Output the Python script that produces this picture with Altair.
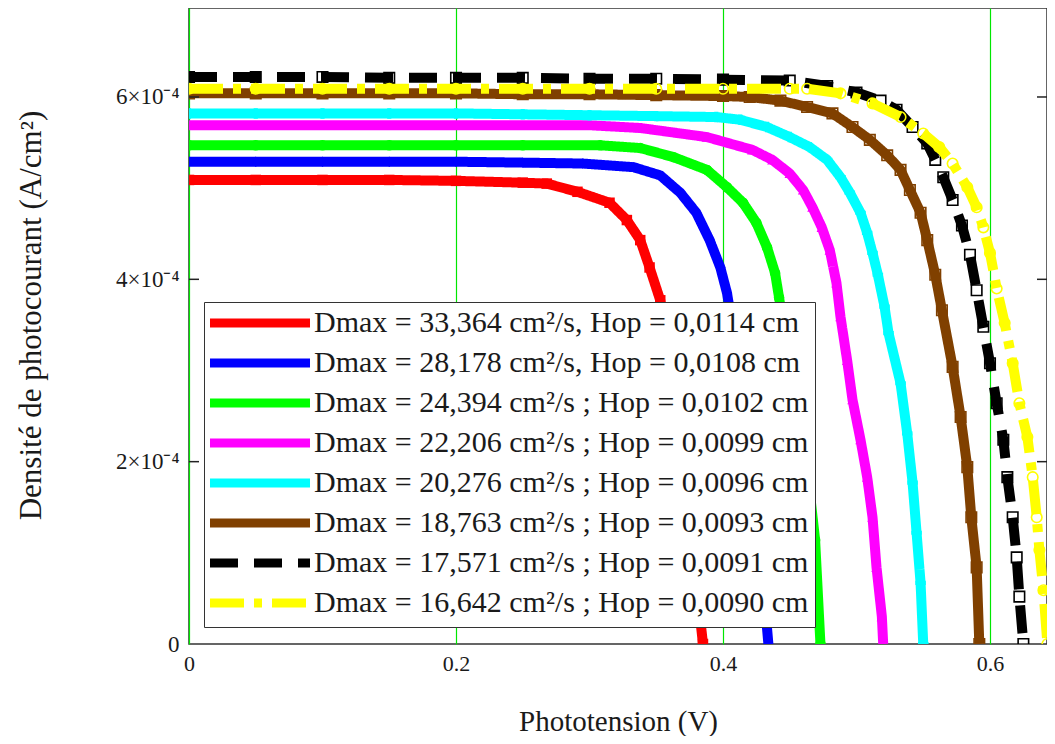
import altair as alt
import pandas as pd

# ---------------- data (J in units of 1e-4 A/cm^2, V in volts) ----------------
labels = [
    "Dmax = 33,364 cm²/s, Hop = 0,0114 cm",
    "Dmax = 28,178 cm²/s, Hop = 0,0108 cm",
    "Dmax = 24,394 cm²/s ; Hop = 0,0102 cm",
    "Dmax = 22,206 cm²/s ; Hop = 0,0099 cm",
    "Dmax = 20,276 cm²/s ; Hop = 0,0096 cm",
    "Dmax = 18,763 cm²/s ; Hop = 0,0093 cm",
    "Dmax = 17,571 cm²/s ; Hop = 0,0091 cm",
    "Dmax = 16,642 cm²/s ; Hop = 0,0090 cm",
]
colors = ["#ff0000", "#0000ff", "#00ff00", "#ff00ff", "#00ffff", "#804000", "#000000", "#ffff00"]
dashes = [[1, 0], [1, 0], [1, 0], [1, 0], [1, 0], [1, 0], [28, 16], [34, 10, 8, 10]]
shapes = ["square", "diamond", "circle", "triangle-up", "cross", "square", "square", "circle"]
filled = [True, True, True, True, True, False, False, False]

V_red = [0, 0.05, 0.10, 0.15, 0.20, 0.25, 0.268, 0.291, 0.315, 0.328, 0.338, 0.345, 0.353, 0.362, 0.372, 0.379, 0.385]
J_red = [5.09, 5.09, 5.09, 5.09, 5.08, 5.06, 5.05, 4.96, 4.84, 4.65, 4.43, 4.13, 3.77, 2.89, 1.80, 0.81, 0]

V_blue = [0, 0.05, 0.10, 0.15, 0.20, 0.25, 0.295, 0.333, 0.353, 0.368, 0.380, 0.390, 0.398, 0.403, 0.416, 0.426, 0.434]
J_blue = [5.29, 5.29, 5.29, 5.29, 5.29, 5.28, 5.27, 5.23, 5.14, 4.95, 4.73, 4.43, 4.13, 3.85, 2.68, 1.36, 0]

V_green = [0, 0.05, 0.10, 0.15, 0.20, 0.25, 0.308, 0.338, 0.363, 0.388, 0.403, 0.415, 0.425, 0.433, 0.439, 0.442,
           0.454, 0.464, 0.469, 0.473]
J_green = [5.47, 5.47, 5.47, 5.47, 5.47, 5.47, 5.47, 5.44, 5.34, 5.20, 5.01, 4.84, 4.62, 4.35, 4.07, 3.80,
           2.68, 1.80, 1.14, 0]

V_magenta = [0, 0.05, 0.10, 0.15, 0.20, 0.25, 0.30, 0.338, 0.388, 0.422, 0.437, 0.450, 0.460, 0.467, 0.474, 0.480,
             0.485, 0.488, 0.493, 0.497, 0.503, 0.508, 0.512, 0.515, 0.519, 0.520]
J_magenta = [5.69, 5.69, 5.69, 5.69, 5.69, 5.69, 5.69, 5.66, 5.56, 5.42, 5.31, 5.16, 4.98, 4.79, 4.57, 4.32,
             3.96, 3.59, 3.11, 2.68, 2.24, 1.83, 1.39, 0.84, 0.30, 0]

V_cyan = [0, 0.05, 0.10, 0.15, 0.20, 0.25, 0.30, 0.35, 0.395, 0.413, 0.433, 0.450, 0.465, 0.478, 0.488, 0.495,
          0.503, 0.508, 0.512, 0.516, 0.521, 0.524, 0.533, 0.538, 0.542, 0.545, 0.548, 0.550]
J_cyan = [5.82, 5.82, 5.82, 5.82, 5.82, 5.81, 5.80, 5.79, 5.78, 5.75, 5.67, 5.56, 5.45, 5.31, 5.12, 4.95,
          4.73, 4.51, 4.29, 4.05, 3.70, 3.41, 2.86, 2.31, 1.77, 1.22, 0.67, 0]

V_brown = [0, 0.05, 0.10, 0.15, 0.20, 0.25, 0.30, 0.35, 0.40, 0.420, 0.443, 0.463, 0.482, 0.497, 0.510, 0.523,
           0.533, 0.540, 0.548, 0.553, 0.559, 0.564, 0.572, 0.578, 0.583, 0.586, 0.590, 0.592]
J_brown = [6.04, 6.04, 6.04, 6.04, 6.04, 6.03, 6.03, 6.02, 6.01, 6.00, 5.96, 5.89, 5.82, 5.67, 5.53, 5.36,
           5.20, 4.98, 4.73, 4.43, 4.05, 3.66, 3.04, 2.49, 1.94, 1.39, 0.84, 0]

V_black = [0, 0.05, 0.10, 0.15, 0.20, 0.25, 0.30, 0.35, 0.40, 0.45, 0.478, 0.500, 0.518, 0.530, 0.542, 0.553,
           0.559, 0.565, 0.572, 0.579, 0.585, 0.590, 0.595, 0.600, 0.605, 0.610, 0.613, 0.617, 0.620, 0.622, 0.625]
J_black = [6.22, 6.22, 6.22, 6.21, 6.21, 6.21, 6.20, 6.20, 6.19, 6.18, 6.12, 6.05, 5.96, 5.86, 5.67, 5.49,
           5.31, 5.12, 4.87, 4.59, 4.27, 3.88, 3.48, 3.08, 2.64, 2.24, 1.83, 1.39, 0.95, 0.52, 0]

V_yellow = [0, 0.05, 0.10, 0.15, 0.20, 0.25, 0.30, 0.35, 0.40, 0.45, 0.463, 0.488, 0.512, 0.533, 0.550, 0.562,
            0.572, 0.583, 0.590, 0.595, 0.600, 0.605, 0.611, 0.617, 0.622, 0.628, 0.632, 0.635, 0.637, 0.640, 0.643]
J_yellow = [6.09, 6.09, 6.09, 6.09, 6.09, 6.09, 6.09, 6.09, 6.09, 6.09, 6.09, 6.04, 5.93, 5.78, 5.60, 5.45,
            5.27, 5.01, 4.79, 4.57, 4.29, 3.90, 3.52, 3.08, 2.64, 2.27, 1.83, 1.39, 1.03, 0.59, 0]

x_ticks = [0, 0.2, 0.4, 0.6]
y_ticks = [0, 2e-4, 4e-4, 6e-4]

series_V = [V_red, V_blue, V_green, V_magenta, V_cyan, V_brown, V_black, V_yellow]
series_J = [J_red, J_blue, J_green, J_magenta, J_cyan, J_brown, J_black, J_yellow]

rows = []
for name, Vs, Js in zip(labels, series_V, series_J):
    for v, j in zip(Vs, Js):
        rows.append({"serie": name, "V": v, "J": j * 1e-4})
df = pd.DataFrame(rows)

W, H = 858, 636
FONT = "Liberation Serif"
TXT = "#1a1a1a"

xs = alt.Scale(domain=[0, 0.6427], nice=False, zero=False)
ys = alt.Scale(domain=[0, 6.976e-4], nice=False)

x_enc = alt.X("V:Q", scale=xs, axis=alt.Axis(
    values=x_ticks, labelExpr="datum.value == 0 ? '0' : format(datum.value, '.1f')",
    title="Phototension (V)", grid=True, gridColor="#00e600", gridWidth=1.2, ticks=False, domain=False,
    labelPadding=9, labelFontSize=22, labelFont=FONT, labelColor=TXT, labelFlush=False,
    titleFont=FONT, titleFontSize=29, titleFontWeight="normal", titleColor=TXT,
    titleBaseline="alphabetic", titleY=86))
y_enc = alt.Y("J:Q", scale=ys, axis=alt.Axis(
    values=y_ticks, labelExpr="datum.value == 0 ? '0' : format(round(datum.value * 1e4), 'd') + '×10⁻⁴'",
    title="Densité de photocourant (A/cm²)", grid=False, ticks=False, domain=False,
    labelPadding=10, labelFontSize=23, labelFont=FONT, labelColor=TXT,
    titleFont=FONT, titleFontSize=31, titleFontWeight="normal", titleColor=TXT,
    titleAngle=270, titleX=-158, titleY=307, titleAlign="center", titleBaseline="middle"))

color_scale = alt.Scale(domain=labels, range=colors)
dash_scale = alt.Scale(domain=labels, range=dashes)

layers = []
for i, name in enumerate(labels):
    sub = alt.Chart(df).transform_filter(alt.datum.serie == name)
    line = sub.mark_line(strokeWidth=10, clip=True, strokeCap="butt").encode(
        x=x_enc, y=y_enc,
        color=alt.Color("serie:N", scale=color_scale, title=None),
        strokeDash=alt.StrokeDash("serie:N", scale=dash_scale, title=None),
        order=alt.Order("V:Q"),
    )
    if filled[i]:
        pts = sub.mark_point(shape=shapes[i], filled=True, size=110, color=colors[i], opacity=1, clip=True)
    else:
        pts = sub.mark_point(shape=shapes[i], filled=False, size=110, color=colors[i], strokeWidth=1.6,
                             opacity=1, clip=True)
    pts = pts.encode(x=x_enc, y=y_enc)
    layers += [line, pts]

tick_df = pd.DataFrame({"J": y_ticks[1:]})
left_ticks = alt.Chart(tick_df).mark_rule(color="#222", strokeWidth=1.5).encode(
    y=y_enc, x=alt.value(0), x2=alt.value(10))
right_ticks = alt.Chart(tick_df).mark_rule(color="#222", strokeWidth=1.5).encode(
    y=y_enc, x=alt.value(W - 10), x2=alt.value(W))

chart = alt.layer(*layers, left_ticks, right_ticks).properties(
    width=W, height=H,
    autosize=alt.AutoSizeParams(type="none"),
    padding={"left": 181, "top": 0, "right": 0, "bottom": 92},
).configure_view(
    stroke="#333", strokeWidth=1.5
).configure_legend(
    orient="none", legendX=15, legendY=294,
    strokeColor="#333", fillColor="white", padding=6,
    symbolType="M-3,0L17,0", symbolSize=100, symbolStrokeWidth=9,
    labelFont=FONT, labelFontSize=30, labelColor=TXT, labelLimit=0, labelOffset=74,
    rowPadding=4, cornerRadius=0,
)

chart.save("out.html", embed_options={"renderer": "svg", "actions": False})
